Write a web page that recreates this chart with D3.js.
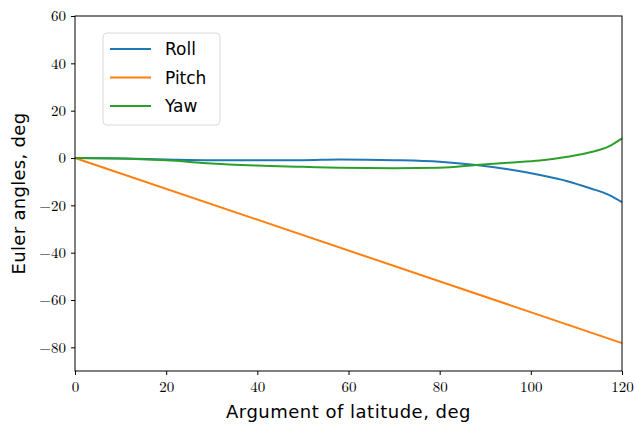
<!DOCTYPE html>
<html>
<head>
<meta charset="utf-8">
<script src="https://cdn.jsdelivr.net/npm/d3@7"></script>
<style>
  body { margin: 0; background: #fff; }
</style>
</head>
<body>
<div id="chart"></div>
<script>
var chart_width = 635;
var chart_height = 426;
var margin = {left: 75, right: 13, top: 16, bottom: 55};

// Data
var lat = [0, 10, 20, 30, 40, 50, 58, 70, 80, 88, 95, 102, 108, 113, 117, 120];
var roll = [0, -0.2, -0.6, -0.9, -0.9, -0.9, -0.6, -0.9, -1.6, -3.0, -4.8, -7.2, -9.8, -12.8, -15.5, -18.7];
var yaw = [0, -0.2, -1.0, -2.3, -3.2, -3.7, -4.1, -4.3, -4.1, -3.0, -2.0, -1.1, 0.5, 2.4, 4.8, 8.3];
var pitch_lat = [0, 120];
var pitch = [0, -78.2];

var series = [
    {name: 'Roll', color: '#1f77b4', x: lat, y: roll},
    {name: 'Pitch', color: '#ff7f0e', x: pitch_lat, y: pitch},
    {name: 'Yaw', color: '#2ca02c', x: lat, y: yaw}
];

var x_ticks = [0, 20, 40, 60, 80, 100, 120];
var y_ticks = [-80, -60, -40, -20, 0, 20, 40, 60];

var svg = d3.select('#chart')
            .append('svg')
            .attr('width', chart_width)
            .attr('height', chart_height);

var x_scale = d3.scaleLinear()
                .domain([0, 120])
                .range([margin.left, chart_width - margin.right]);

var y_scale = d3.scaleLinear()
                .domain([-90, 60])
                .range([chart_height - margin.bottom, margin.top]);

var fmt = (d) => d < 0 ? '\u2212' + Math.abs(d) : d;

//Lines
var line = d3.line()
    .x((d) => x_scale(d[0]))
    .y((d) => y_scale(d[1]))
    .curve(d3.curveMonotoneX);

svg.selectAll('path.series')
    .data(series)
    .enter()
    .append('path')
    .attr('class', 'series')
    .attr('d', (s) => line(s.x.map((v, i) => [v, s.y[i]])))
    .attr('fill', 'none')
    .attr('stroke', (s) => s.color)
    .attr('stroke-width', 2);

//Axes
var x_axis = d3.axisBottom(x_scale).tickValues(x_ticks).tickFormat(fmt).tickSize(4).tickPadding(6);
var y_axis = d3.axisLeft(y_scale).tickValues(y_ticks).tickFormat(fmt).tickSize(4).tickPadding(5);

svg.append('g')
    .attr('transform', 'translate(0,' + (chart_height - margin.bottom) + ')')
    .call(x_axis);
svg.append('g')
    .attr('transform', 'translate(' + margin.left + ',0)')
    .call(y_axis);

svg.selectAll('.domain').remove();
svg.selectAll('.tick line').attr('stroke', '#000');
svg.selectAll('.tick text')
    .attr('fill', '#000')
    .style('font-family', '"Latin Modern Roman", "DejaVu Serif", serif')
    .style('font-size', '15px');

//Frame
svg.append('rect')
    .attr('x', margin.left)
    .attr('y', margin.top)
    .attr('width', chart_width - margin.left - margin.right)
    .attr('height', chart_height - margin.top - margin.bottom)
    .attr('fill', 'none')
    .attr('stroke', '#000')
    .attr('stroke-width', 1);

//Axis labels
svg.append('text')
    .text('Argument of latitude, deg')
    .attr('x', (margin.left + chart_width - margin.right) / 2)
    .attr('y', 418)
    .attr('text-anchor', 'middle')
    .attr('font-family', 'DejaVu Sans, sans-serif')
    .attr('font-size', 18)
    .attr('letter-spacing', 0.5);

svg.append('text')
    .text('Euler angles, deg')
    .attr('transform', 'translate(25,' + ((margin.top + chart_height - margin.bottom) / 2) + ') rotate(-90)')
    .attr('text-anchor', 'middle')
    .attr('font-family', 'DejaVu Sans, sans-serif')
    .attr('font-size', 18)
    .attr('letter-spacing', 0.3);

//Legend
var legend = svg.append('g').attr('transform', 'translate(103,33)');
legend.append('rect')
    .attr('width', 117)
    .attr('height', 92)
    .attr('rx', 4)
    .attr('fill', '#fff')
    .attr('stroke', '#d9d9d9');

var items = legend.selectAll('g.item')
    .data(series)
    .enter()
    .append('g')
    .attr('class', 'item')
    .attr('transform', (d, i) => 'translate(0,' + (16 + i * 28.5) + ')');

items.append('line')
    .attr('x1', 7).attr('x2', 48)
    .attr('stroke', (d) => d.color)
    .attr('stroke-width', 2);

items.append('text')
    .text((d) => d.name)
    .attr('x', 62)
    .attr('y', 6)
    .attr('font-family', 'DejaVu Sans, sans-serif')
    .attr('font-size', 17);
</script>
</body>
</html>
